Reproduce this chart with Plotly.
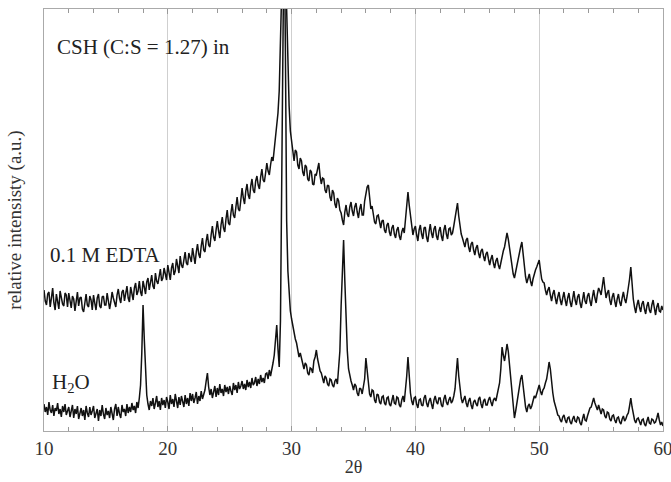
import plotly.graph_objects as go

# Relative intensity of CSH (C:S = 1.27) aged in water, 2θ = 10.0 ... 60.0 in 0.1° steps
h2o = [
    27, 19, 24, 16, 29, 21, 18, 26, 15, 23,   # 10
    20, 28, 17, 22, 14, 25, 19, 27, 16, 21,   # 11
    24, 14, 20, 26, 13, 22, 17, 25, 12, 19,   # 12
    23, 15, 21, 11, 25, 18, 14, 24, 16, 20,   # 13
    25, 13, 19, 22, 10, 21, 15, 26, 17, 12,   # 14
    23, 16, 20, 13, 24, 18, 11, 22, 27, 15,   # 15
    24, 17, 13, 26, 19, 22, 15, 27, 18, 24,   # 16
    19, 28, 21, 25, 18, 29, 23, 33, 46, 78,   # 17
    126, 92, 58, 36, 27, 21, 30, 25, 33, 22,  # 18
    28, 35, 24, 30, 21, 33, 26, 31, 23, 34,   # 19
    29, 22, 36, 27, 32, 24, 37, 28, 23, 34,   # 20
    26, 35, 29, 24, 36, 27, 33, 25, 38, 30,   # 21
    37, 28, 33, 39, 27, 35, 30, 40, 32, 37,   # 22
    41, 50, 58, 44, 36, 42, 33, 39, 45, 34,   # 23
    43, 36, 47, 38, 42, 35, 46, 39, 44, 37,   # 24
    45, 40, 36, 48, 41, 46, 38, 49, 42, 45,   # 25
    50, 42, 47, 41, 51, 44, 49, 43, 53, 46,   # 26
    48, 54, 45, 52, 47, 56, 49, 53, 48, 57,   # 27
    58, 52, 61, 55, 64, 68, 76, 92, 106, 82,  # 28
    64, 110, 260, 420, 520, 380, 210, 160, 135, 120,  # 29
    112, 104, 96, 92, 88, 80, 74, 78, 72, 66,  # 30
    62, 68, 66, 58, 56, 63, 62, 58, 70, 74,   # 31
    81, 72, 64, 60, 58, 52, 48, 55, 53, 47,   # 32
    45, 52, 51, 46, 44, 50, 52, 47, 62, 80,   # 33
    125, 170, 191, 150, 112, 80, 62, 55, 50, 46,  # 34
    41, 47, 45, 38, 35, 43, 42, 37, 46, 52,   # 35
    73, 58, 44, 37, 34, 41, 40, 31, 28, 37,   # 36
    36, 29, 27, 34, 35, 28, 26, 33, 34, 27,   # 37
    25, 32, 36, 28, 27, 34, 33, 26, 24, 31,   # 38
    35, 29, 40, 55, 74, 52, 38, 30, 26, 33,   # 39
    34, 27, 23, 31, 32, 26, 25, 33, 36, 28,   # 40
    24, 30, 33, 27, 22, 31, 35, 29, 27, 33,   # 41
    33, 26, 24, 32, 36, 29, 26, 31, 34, 28,   # 42
    30, 35, 42, 58, 73, 55, 40, 33, 28, 32,   # 43
    35, 28, 24, 30, 33, 26, 22, 29, 31, 27,   # 44
    25, 32, 34, 27, 23, 30, 32, 26, 26, 31,   # 45
    34, 29, 25, 31, 33, 30, 36, 40, 48, 62,   # 46
    84, 76, 70, 78, 87, 80, 66, 52, 36, 22,   # 47
    13, 20, 28, 38, 46, 52, 56, 44, 30, 24,   # 48
    19, 25, 27, 22, 25, 31, 35, 33, 37, 42,   # 49
    46, 40, 36, 41, 43, 48, 52, 60, 69, 62,   # 50
    48, 38, 30, 24, 21, 16, 15, 11, 9, 14,    # 51
    16, 11, 8, 13, 14, 9, 7, 12, 15, 10,      # 52
    9, 14, 13, 8, 6, 12, 17, 11, 10, 15,      # 53
    20, 23, 24, 29, 33, 28, 24, 21, 26, 20,   # 54
    17, 22, 21, 15, 13, 19, 18, 12, 10, 15,   # 55
    16, 11, 8, 13, 14, 9, 7, 12, 15, 10,      # 56
    12, 16, 18, 25, 33, 24, 15, 11, 8, 12,    # 57
    13, 8, 6, 11, 12, 7, 5, 10, 14, 8,        # 58
    7, 12, 11, 8, 9, 13, 18, 11, 6, 9,        # 59
    5,
]

# Relative intensity of the same CSH in 0.1 M EDTA (offset trace), same 2θ steps
edta = [
    141, 130, 126, 137, 139, 124, 133, 143, 128, 121,  # 10
    137, 131, 122, 140, 134, 127, 125, 138, 136, 124,  # 11
    138, 129, 123, 135, 132, 120, 128, 139, 125, 133,  # 12
    134, 122, 119, 130, 137, 126, 124, 135, 131, 121,  # 13
    136, 128, 121, 133, 137, 125, 123, 134, 135, 126,  # 14
    126, 138, 131, 122, 129, 139, 133, 127, 124, 136,  # 15
    142, 133, 128, 139, 141, 130, 136, 145, 133, 129,  # 16
    144, 138, 131, 143, 148, 136, 140, 150, 139, 135,  # 17
    150, 144, 137, 149, 153, 141, 147, 156, 145, 142,  # 18
    158, 150, 147, 156, 162, 150, 153, 163, 155, 151,  # 19
    166, 157, 151, 163, 168, 156, 160, 172, 163, 158,  # 20
    175, 166, 163, 172, 179, 168, 166, 178, 174, 169,  # 21
    183, 174, 167, 179, 187, 177, 173, 185, 193, 181,  # 22
    179, 190, 197, 186, 184, 196, 205, 194, 190, 201,  # 23
    210, 200, 193, 206, 214, 203, 199, 212, 221, 208,  # 24
    206, 218, 227, 216, 213, 224, 234, 222, 220, 231,  # 25
    243, 233, 227, 240, 247, 236, 232, 245, 252, 241,  # 26
    238, 250, 255, 246, 242, 254, 262, 251, 249, 258,  # 27
    268, 260, 256, 266, 274, 270, 282, 290, 302, 318,  # 28
    340, 380, 430, 500, 540, 470, 410, 360, 325, 300,  # 29
    288, 276, 270, 281, 279, 266, 262, 273, 270, 259,  # 30
    255, 266, 264, 252, 250, 261, 259, 247, 246, 257,  # 31
    256, 262, 268, 255, 247, 253, 252, 241, 238, 246,  # 32
    245, 234, 230, 241, 238, 227, 223, 233, 230, 221,  # 33
    218, 211, 206, 219, 226, 217, 214, 224, 229, 220,  # 34
    215, 224, 228, 219, 213, 222, 227, 216, 216, 230,  # 35
    236, 244, 246, 232, 222, 225, 218, 209, 207, 215,  # 36
    216, 207, 203, 210, 211, 201, 198, 206, 208, 199,  # 37
    195, 203, 206, 197, 193, 201, 204, 195, 191, 199,  # 38
    203, 198, 210, 222, 239, 226, 214, 204, 196, 202,  # 39
    205, 196, 190, 201, 206, 197, 192, 203, 204, 194,  # 40
    189, 199, 207, 198, 193, 202, 205, 195, 191, 200,  # 41
    204, 195, 190, 201, 206, 197, 192, 202, 203, 196,  # 42
    198, 205, 212, 220, 228, 215, 204, 197, 193, 188,  # 43
    184, 191, 193, 184, 179, 187, 189, 181, 176, 183,  # 44
    186, 178, 173, 180, 182, 175, 170, 177, 179, 172,  # 45
    166, 172, 176, 168, 163, 170, 173, 166, 162, 168,  # 46
    175, 180, 184, 191, 198, 192, 182, 172, 163, 157,  # 47
    153, 160, 166, 173, 178, 184, 189, 176, 162, 154,  # 48
    148, 154, 157, 150, 145, 152, 158, 161, 164, 168,  # 49
    171, 161, 152, 149, 148, 141, 136, 141, 144, 136,  # 50
    130, 137, 141, 133, 127, 134, 139, 131, 126, 133,  # 51
    139, 131, 125, 133, 138, 129, 124, 132, 140, 131,  # 52
    126, 134, 137, 128, 123, 131, 139, 130, 127, 135,  # 53
    138, 130, 125, 134, 141, 133, 128, 137, 143, 140,  # 54
    136, 145, 154, 143, 133, 138, 141, 131, 126, 134,  # 55
    138, 130, 124, 132, 137, 129, 125, 133, 139, 132,  # 56
    128, 135, 143, 152, 164, 146, 132, 124, 118, 126,  # 57
    131, 124, 119, 127, 130, 122, 117, 125, 129, 121,  # 58
    118, 126, 131, 123, 116, 124, 128, 120, 119, 125,  # 59
    121,
]

# Diffraction angle grid (2θ, degrees)
two_theta = [round(10 + 0.1 * i, 1) for i in range(len(h2o))]

x_ticks = [10, 20, 30, 40, 50, 60]

serif = "Liberation Serif"
text_color = "#333333"

fig = go.Figure()
for name, ys in (("H2O", h2o), ("0.1 M EDTA", edta)):
    fig.add_trace(go.Scatter(
        x=two_theta, y=ys, mode="lines", name=name,
        line=dict(color="#111111", width=1.5),
        showlegend=False,
    ))

fig.update_layout(
    width=671, height=482,
    margin=dict(l=44, r=8, t=9, b=51),
    paper_bgcolor="white", plot_bgcolor="white",
    font=dict(family=serif, size=19, color=text_color),
    xaxis=dict(
        range=[10, 60], tickvals=x_ticks, ticks="inside", ticklen=5,
        tickcolor="#999999", showgrid=True, gridcolor="#cfcfcf", gridwidth=1,
        showline=True, linecolor="#aaaaaa", linewidth=1, mirror="ticks",
        minor=dict(dtick=2, ticks="inside", ticklen=4, tickcolor="#999999",
                   showgrid=False),
        tickfont=dict(family=serif, size=19, color=text_color),
        ticklabeloverflow="allow",
        automargin=False,
        title=dict(text="2θ", font=dict(family=serif, size=18, color=text_color),
                   standoff=2),
        zeroline=False,
    ),
    yaxis=dict(
        range=[0, 422], showticklabels=False, ticks="", showgrid=False,
        showline=True, linecolor="#aaaaaa", linewidth=1, mirror=True,
        zeroline=False,
        title=dict(text="relative intensisty (a.u.)",
                   font=dict(family=serif, size=19, color=text_color),
                   standoff=16),
    ),
)

labels = [
    (10.9, 384, "CSH (C:S = 1.27) in"),
    (10.3, 176, "0.1 M EDTA"),
    (10.5, 48, "H<sub>2</sub>O"),
]
for x, y, text in labels:
    fig.add_annotation(
        x=x, y=y, xref="x", yref="y", text=text, showarrow=False,
        xanchor="left", yanchor="middle",
        font=dict(family=serif, size=21, color="#222222"),
    )

fig.write_html("out.html")
